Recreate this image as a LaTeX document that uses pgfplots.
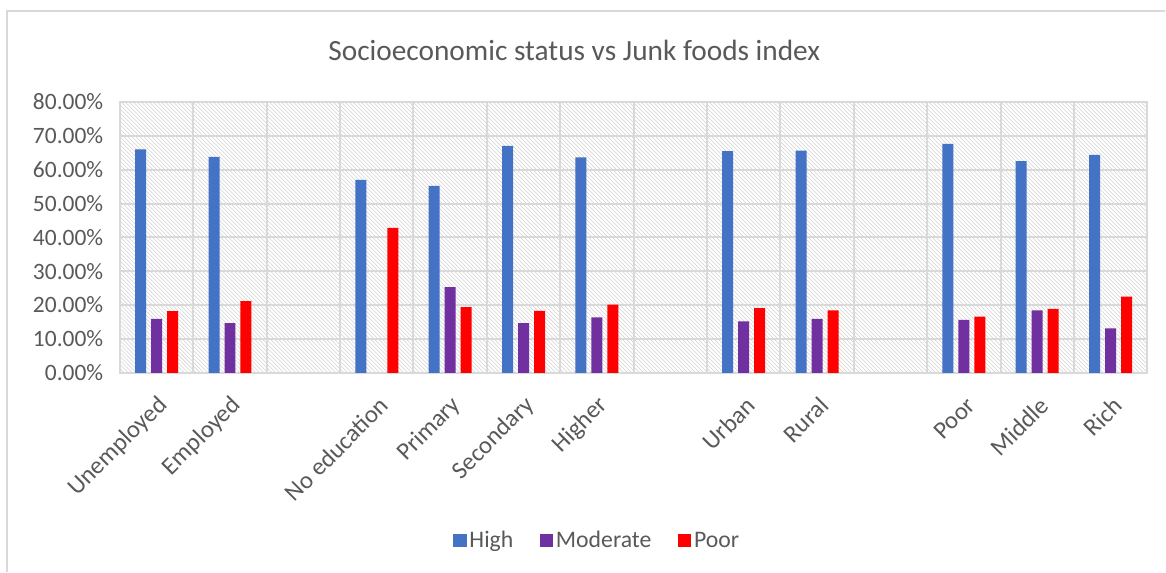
\documentclass[border=0pt]{standalone}
\usepackage{pgfplots}
\pgfplotsset{compat=1.18}
\usepackage{fontspec}
\setmainfont{Carlito}
\usetikzlibrary{patterns}
\definecolor{cHigh}{HTML}{4472C4}
\definecolor{cMod}{HTML}{7030A0}
\definecolor{cPoor}{HTML}{FF0000}
\definecolor{gridgray}{HTML}{D9D9D9}
\definecolor{txtgray}{HTML}{595959}
\begin{document}
\begin{tikzpicture}
\path (0,0) rectangle (874.5pt,429pt);
\draw[gridgray, line width=1.1pt] (5.25pt,0) -- (5.25pt,420.75pt) -- (874.5pt,420.75pt);
\node[text=txtgray, font=\fontsize{22}{25}\selectfont] at (431pt,391.5pt) {Socioeconomic status vs Junk foods index};
\begin{axis}[
  at={(90pt,149.25pt)}, anchor=south west,
  scale only axis, width=771pt, height=203.25pt,
  ybar=3.75pt, bar width=8.25pt,
  xmin=-0.5, xmax=13.5, ymin=0, ymax=80,
  xtick={0,1,3,4,5,6,8,9,11,12,13},
  xticklabels={Unemployed,Employed,No education,Primary,Secondary,Higher,Urban,Rural,Poor,Middle,Rich},
  minor xtick={-0.5,0.5,...,13.5},
  ytick={0,10,...,80},
  yticklabels={0.00\%,10.00\%,20.00\%,30.00\%,40.00\%,50.00\%,60.00\%,70.00\%,80.00\%},
  major tick length=0pt, minor tick length=0pt,
  ymajorgrids, xminorgrids, xmajorgrids=false,
  grid style={draw=gridgray, line width=1.5pt},
  minor grid style={draw=gridgray, line width=1.5pt},
  axis line style={draw=gridgray, line width=1.5pt},
  axis background/.style={pattern=north west lines, pattern color=gray!35},
  axis on top=false,
  yticklabel style={text=txtgray, font=\fontsize{17.6}{20}\selectfont, xshift=-9pt},
  xticklabel style={text=txtgray, font=\fontsize{18.5}{21}\selectfont, rotate=45, anchor=east, yshift=-19pt, xshift=-8pt},
  legend style={at={(0.465,-0.62)}, anchor=center, draw=none, fill=none,
    font=\fontsize{17.8}{20}\selectfont, text=txtgray, legend columns=3,
    /tikz/every even column/.append style={column sep=18pt}},
  legend image code/.code={\fill[#1] (0pt,-5pt) rectangle (10pt,5pt);},
]
\addplot[fill=cHigh, draw=none] coordinates {(0,66) (1,63.8) (3,57) (4,55.2) (5,67) (6,63.6) (8,65.5) (9,65.6) (11,67.6) (12,62.5) (13,64.4)};
\addplot[fill=cMod, draw=none] coordinates {(0,15.9) (1,14.7) (4,25.3) (5,14.7) (6,16.4) (8,15.2) (9,15.9) (11,15.6) (12,18.4) (13,13.1)};
\addplot[fill=cPoor, draw=none] coordinates {(0,18.2) (1,21.2) (3,42.8) (4,19.4) (5,18.3) (6,20.1) (8,19.1) (9,18.4) (11,16.6) (12,18.9) (13,22.5)};
\legend{High,Moderate,Poor}
\end{axis}
\end{tikzpicture}
\end{document}
